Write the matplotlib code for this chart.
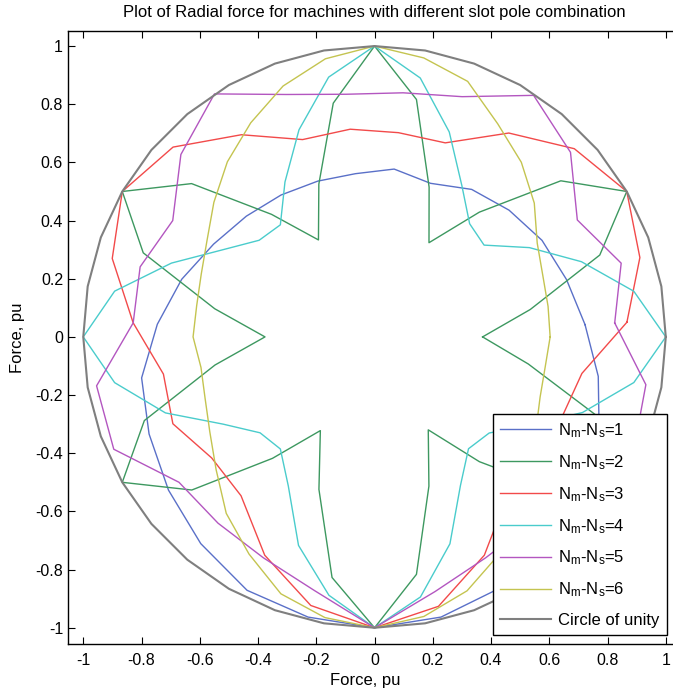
import numpy as np
import matplotlib
matplotlib.use("Agg")
import matplotlib.pyplot as plt

plt.rcParams['font.family'] = ['Liberation Sans', 'DejaVu Sans']

# angles of the sample points (deg): 27 slots for odd cases, 36 for even cases
ang_odd = 10 / 3 + 40 / 3 * np.arange(27)
ang_even = 10.0 * np.arange(36)

# normalised radial force at each sample point
r1 = [0.724, 0.688, 0.664, 0.635, 0.607, 0.562, 0.581, 0.565, 0.570, 0.584,
      0.605, 0.638, 0.691, 0.747, 0.812, 0.843, 0.882, 0.928, 0.975, 0.990,
      1.000, 0.990, 0.965, 0.930, 0.880, 0.840, 0.780]
r2 = [0.371, 0.543, 0.823, 1.000, 0.835, 0.560, 0.374, 0.548, 0.829, 1.000,
      0.816, 0.559, 0.385, 0.550, 0.820, 1.000, 0.845, 0.557, 0.376, 0.556,
      0.841, 1.000, 0.819, 0.545, 0.372, 0.558, 0.840, 1.000, 0.829, 0.546,
      0.369, 0.560, 0.830, 1.000, 0.830, 0.536]
r3 = [0.868, 0.951, 1.000, 0.943, 0.839, 0.710, 0.707, 0.719, 0.722, 0.832,
      0.951, 1.000, 0.940, 0.830, 0.736, 0.754, 0.697, 0.713, 0.840, 0.949,
      1.000, 0.952, 0.840, 0.710, 0.700, 0.700, 0.723]
r4 = [1.000, 0.904, 0.756, 0.614, 0.491, 0.508, 0.600, 0.750, 0.904, 1.000,
      0.907, 0.758, 0.615, 0.503, 0.517, 0.600, 0.742, 0.906, 1.000, 0.906,
      0.764, 0.600, 0.513, 0.503, 0.592, 0.763, 0.902, 1.000, 0.908, 0.757,
      0.590, 0.502, 0.514, 0.610, 0.760, 0.904]
r5 = [0.826, 0.884, 0.804, 0.925, 0.994, 0.879, 0.845, 0.840, 0.887, 1.000,
      0.914, 0.800, 0.840, 0.830, 0.969, 0.975, 0.837, 0.836, 0.850, 0.896,
      1.000, 0.900, 0.850, 0.836, 0.840, 0.970, 0.946]
r6 = [0.603, 0.605, 0.615, 0.645, 0.716, 0.784, 0.846, 0.935, 0.974, 1.000,
      0.971, 0.918, 0.850, 0.786, 0.720, 0.664, 0.633, 0.620, 0.623, 0.605,
      0.619, 0.653, 0.710, 0.792, 0.862, 0.940, 0.980, 1.000, 0.976, 0.929,
      0.860, 0.790, 0.710, 0.640, 0.605, 0.595]
r_unity = [1.0] * 36

series = [
    (ang_odd, r1, '#5a70c8', r'N$\mathregular{_m}$-N$\mathregular{_s}$=1'),
    (ang_even, r2, '#3d9860', r'N$\mathregular{_m}$-N$\mathregular{_s}$=2'),
    (ang_odd, r3, '#f24a4a', r'N$\mathregular{_m}$-N$\mathregular{_s}$=3'),
    (ang_even, r4, '#4acccc', r'N$\mathregular{_m}$-N$\mathregular{_s}$=4'),
    (ang_odd, r5, '#b356c0', r'N$\mathregular{_m}$-N$\mathregular{_s}$=5'),
    (ang_even, r6, '#c4c450', r'N$\mathregular{_m}$-N$\mathregular{_s}$=6'),
    (ang_even, r_unity, '#7f7f7f', 'Circle of unity'),
]

fig = plt.figure(figsize=(6.73, 6.94), dpi=100)
ax = fig.add_axes([0.101, 0.072, 0.911, 0.883])

for ang, r, col, lab in series:
    t = np.deg2rad(np.append(ang, ang[0]))
    rr = np.append(r, r[0])
    lw = 1.5 if lab.startswith('Circle') else 1.0
    ax.plot(rr * np.cos(t), rr * np.sin(t), color=col, lw=lw, label=lab)

ticks = np.round(np.arange(-1, 1.01, 0.2), 1)
labels = ['%g' % v if abs(v) > 1e-9 else '0' for v in ticks]
ax.set_xticks(ticks)
ax.set_xticklabels(labels)
ax.set_yticks(ticks)
ax.set_yticklabels(labels)
ax.set_xlim(-1.0525, 1.0525)
ax.set_ylim(-1.056, 1.051)
ax.tick_params(direction='in', length=5, top=True, right=True,
               labelsize=11.5, width=0.8)
ax.tick_params(axis='x', pad=6.5)
ax.tick_params(axis='y', pad=3.5)
for s in ax.spines.values():
    s.set_linewidth(1.0)

ax.text(0.5, 1.0299,
        'Plot of Radial force for machines with different slot pole combination',
        transform=ax.transAxes, ha='center', va='center', fontsize=12)
ax.set_xlabel('Force, pu', fontsize=12)
ax.set_ylabel('Force, pu', fontsize=12)
ax.xaxis.label.set_va('center')
ax.yaxis.label.set_va('center')
ax.xaxis.set_label_coords(0.4855, -0.0587)
ax.yaxis.set_label_coords(-0.0816, 0.5)

leg = ax.legend(loc='lower right', bbox_to_anchor=(0.991, 0.085),
                bbox_transform=fig.transFigure, borderaxespad=0,
                fancybox=False, framealpha=1, edgecolor='black',
                fontsize=12, labelspacing=0.79, handlelength=3.05,
                handletextpad=0.42, borderpad=0.45)
leg.get_frame().set_linewidth(1.0)

fig.savefig('out.png', dpi=100)
